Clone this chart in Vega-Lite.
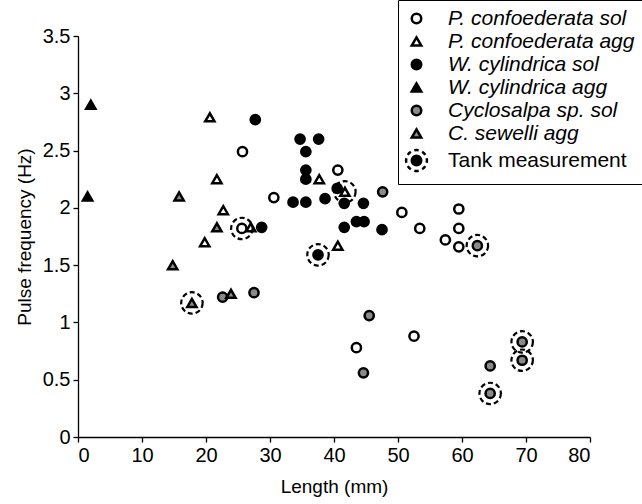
{
  "$schema": "https://vega.github.io/schema/vega-lite/v6.json",
  "width": 512,
  "height": 401,
  "autosize": {"type": "none"},
  "padding": {"left": 78, "top": 36, "right": 52, "bottom": 67},
  "config": {
    "view": {"stroke": null},
    "font": "Liberation Sans",
    "axis": {
      "grid": false,
      "domainColor": "black",
      "domainWidth": 1.3,
      "tickColor": "black",
      "tickWidth": 1.3,
      "tickSize": 5,
      "labelFont": "Liberation Sans",
      "titleFont": "Liberation Sans",
      "labelFontSize": 20,
      "titleFontSize": 19,
      "labelColor": "black",
      "titleColor": "black",
      "titleFontWeight": "normal",
      "labelPadding": 3
    }
  },
  "data": {
    "values": [
      {"length": 25.7, "freq": 2.49, "series": "P. confoederata sol", "tank": false},
      {"length": 25.6, "freq": 1.82, "series": "P. confoederata sol", "tank": true},
      {"length": 30.6, "freq": 2.09, "series": "P. confoederata sol", "tank": false},
      {"length": 40.6, "freq": 2.33, "series": "P. confoederata sol", "tank": false},
      {"length": 50.6, "freq": 1.96, "series": "P. confoederata sol", "tank": false},
      {"length": 53.4, "freq": 1.82, "series": "P. confoederata sol", "tank": false},
      {"length": 57.4, "freq": 1.72, "series": "P. confoederata sol", "tank": false},
      {"length": 59.5, "freq": 1.99, "series": "P. confoederata sol", "tank": false},
      {"length": 59.5, "freq": 1.82, "series": "P. confoederata sol", "tank": false},
      {"length": 59.5, "freq": 1.66, "series": "P. confoederata sol", "tank": false},
      {"length": 52.5, "freq": 0.88, "series": "P. confoederata sol", "tank": false},
      {"length": 43.5, "freq": 0.78, "series": "P. confoederata sol", "tank": false},
      {"length": 20.6, "freq": 2.79, "series": "P. confoederata agg", "tank": false},
      {"length": 21.7, "freq": 2.25, "series": "P. confoederata agg", "tank": false},
      {"length": 22.7, "freq": 1.98, "series": "P. confoederata agg", "tank": false},
      {"length": 19.8, "freq": 1.70, "series": "P. confoederata agg", "tank": false},
      {"length": 27.0, "freq": 1.83, "series": "P. confoederata agg", "tank": false},
      {"length": 37.7, "freq": 2.25, "series": "P. confoederata agg", "tank": false},
      {"length": 41.7, "freq": 2.14, "series": "P. confoederata agg", "tank": true},
      {"length": 40.6, "freq": 1.67, "series": "P. confoederata agg", "tank": false},
      {"length": 27.7, "freq": 2.77, "series": "W. cylindrica sol", "tank": false},
      {"length": 28.7, "freq": 1.83, "series": "W. cylindrica sol", "tank": false},
      {"length": 34.7, "freq": 2.60, "series": "W. cylindrica sol", "tank": false},
      {"length": 37.6, "freq": 2.60, "series": "W. cylindrica sol", "tank": false},
      {"length": 35.6, "freq": 2.49, "series": "W. cylindrica sol", "tank": false},
      {"length": 35.6, "freq": 2.33, "series": "W. cylindrica sol", "tank": false},
      {"length": 35.6, "freq": 2.25, "series": "W. cylindrica sol", "tank": false},
      {"length": 40.5, "freq": 2.17, "series": "W. cylindrica sol", "tank": false},
      {"length": 33.6, "freq": 2.05, "series": "W. cylindrica sol", "tank": false},
      {"length": 35.6, "freq": 2.05, "series": "W. cylindrica sol", "tank": false},
      {"length": 38.6, "freq": 2.08, "series": "W. cylindrica sol", "tank": false},
      {"length": 41.6, "freq": 2.04, "series": "W. cylindrica sol", "tank": false},
      {"length": 44.6, "freq": 2.04, "series": "W. cylindrica sol", "tank": false},
      {"length": 43.5, "freq": 1.88, "series": "W. cylindrica sol", "tank": false},
      {"length": 44.7, "freq": 1.88, "series": "W. cylindrica sol", "tank": false},
      {"length": 41.6, "freq": 1.83, "series": "W. cylindrica sol", "tank": false},
      {"length": 47.5, "freq": 1.81, "series": "W. cylindrica sol", "tank": false},
      {"length": 37.5, "freq": 1.59, "series": "W. cylindrica sol", "tank": true},
      {"length": 1.5, "freq": 2.10, "series": "W. cylindrica agg", "tank": false},
      {"length": 2.0, "freq": 2.90, "series": "W. cylindrica agg", "tank": false},
      {"length": 22.6, "freq": 1.22, "series": "Cyclosalpa sp. sol", "tank": false},
      {"length": 27.5, "freq": 1.26, "series": "Cyclosalpa sp. sol", "tank": false},
      {"length": 47.6, "freq": 2.14, "series": "Cyclosalpa sp. sol", "tank": false},
      {"length": 62.4, "freq": 1.67, "series": "Cyclosalpa sp. sol", "tank": true},
      {"length": 45.5, "freq": 1.06, "series": "Cyclosalpa sp. sol", "tank": false},
      {"length": 44.6, "freq": 0.56, "series": "Cyclosalpa sp. sol", "tank": false},
      {"length": 64.4, "freq": 0.62, "series": "Cyclosalpa sp. sol", "tank": false},
      {"length": 64.4, "freq": 0.38, "series": "Cyclosalpa sp. sol", "tank": true},
      {"length": 69.4, "freq": 0.83, "series": "Cyclosalpa sp. sol", "tank": true},
      {"length": 69.4, "freq": 0.67, "series": "Cyclosalpa sp. sol", "tank": true},
      {"length": 15.8, "freq": 2.10, "series": "C. sewelli agg", "tank": false},
      {"length": 21.7, "freq": 1.83, "series": "C. sewelli agg", "tank": false},
      {"length": 14.8, "freq": 1.50, "series": "C. sewelli agg", "tank": false},
      {"length": 17.8, "freq": 1.17, "series": "C. sewelli agg", "tank": true},
      {"length": 23.9, "freq": 1.25, "series": "C. sewelli agg", "tank": false}
    ]
  },
  "layer": [
    {
      "mark": {"type": "point", "filled": true, "stroke": "black", "strokeWidth": 2.5, "opacity": 1, "size": 85},
      "encoding": {
        "x": {
          "field": "length", "type": "quantitative",
          "scale": {"domain": [0, 80], "nice": false, "zero": true},
          "axis": {"title": "Length (mm)", "values": [0, 10, 20, 30, 40, 50, 60, 70, 80], "titlePadding": 12}
        },
        "y": {
          "field": "freq", "type": "quantitative",
          "scale": {"domain": [0, 3.5], "nice": false},
          "axis": {"title": "Pulse frequency (Hz)", "values": [0, 0.5, 1, 1.5, 2, 2.5, 3, 3.5], "format": "~g", "titlePadding": 8}
        },
        "shape": {
          "field": "series", "type": "nominal",
          "scale": {
            "domain": ["P. confoederata sol", "P. confoederata agg", "W. cylindrica sol", "W. cylindrica agg", "Cyclosalpa sp. sol", "C. sewelli agg", "Tank measurement"],
            "range": ["circle", "triangle-up", "circle", "triangle-up", "circle", "triangle-up", "M2.152,-0.457A2.2,2.2,0,0,1,2.152,0.457M1.845,1.198A2.2,2.2,0,0,1,1.198,1.845M0.457,2.152A2.2,2.2,0,0,1,-0.457,2.152M-1.198,1.845A2.2,2.2,0,0,1,-1.845,1.198M-2.152,0.457A2.2,2.2,0,0,1,-2.152,-0.457M-1.845,-1.198A2.2,2.2,0,0,1,-1.198,-1.845M-0.457,-2.152A2.2,2.2,0,0,1,0.457,-2.152M1.198,-1.845A2.2,2.2,0,0,1,1.845,-1.198M-1,0A1,1,0,1,1,1,0A1,1,0,1,1,-1,0Z"]
          },
          "legend": {
            "title": null, "orient": "none", "legendX": 320, "legendY": -36,
            "strokeColor": "black", "fillColor": "white", "padding": 8,
            "labelFontSize": 21, "labelColor": "black", "labelLimit": 400, "labelOffset": 21,
            "symbolSize": 90, "symbolStrokeWidth": 2.5, "symbolStrokeColor": "black", "symbolOpacity": 1,
            "rowPadding": 1,
            "encode": {"labels": {"update": {"fontStyle": {"signal": "datum.value === 'Tank measurement' ? 'normal' : 'italic'"}}}}
          }
        },
        "fill": {
          "field": "series", "type": "nominal",
          "scale": {
            "domain": ["P. confoederata sol", "P. confoederata agg", "W. cylindrica sol", "W. cylindrica agg", "Cyclosalpa sp. sol", "C. sewelli agg", "Tank measurement"],
            "range": ["white", "white", "black", "black", "#8a8a8a", "#8a8a8a", "black"]
          },
          "legend": {
            "title": null, "orient": "none", "legendX": 320, "legendY": -36,
            "strokeColor": "black", "fillColor": "white", "padding": 8,
            "labelFontSize": 21, "labelColor": "black", "labelLimit": 400, "labelOffset": 21,
            "symbolSize": 90, "symbolStrokeWidth": 2.5, "symbolStrokeColor": "black", "symbolOpacity": 1,
            "rowPadding": 1,
            "encode": {"labels": {"update": {"fontStyle": {"signal": "datum.value === 'Tank measurement' ? 'normal' : 'italic'"}}}}
          }
        }
      }
    },
    {
      "transform": [{"filter": "datum.tank"}],
      "mark": {"type": "point", "shape": "circle", "filled": false, "stroke": "black", "strokeWidth": 2.2, "strokeDash": [5, 3], "size": 460, "opacity": 1},
      "encoding": {
        "x": {"field": "length", "type": "quantitative"},
        "y": {"field": "freq", "type": "quantitative"}
      }
    }
  ]
}
